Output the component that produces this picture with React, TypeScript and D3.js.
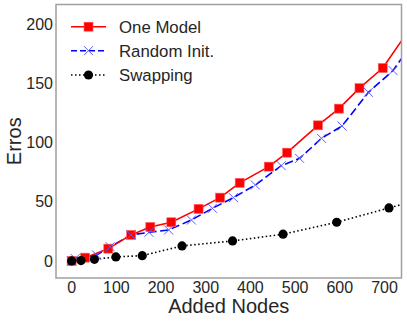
import React from 'react'
import * as d3 from 'd3'

// values
const oneModelX = [0, 30, 82, 133, 176, 223, 284, 332, 376, 441, 482, 551, 598, 644, 696, 760]
const oneModelY = [0, 2.8, 10.4, 22, 28.7, 32.7, 44, 53.5, 66, 79.7, 91.5, 114.6, 128.7, 146, 163, 198]

const randomX = [0, 8, 56, 86, 133, 173, 217, 268, 315, 362, 411, 469, 510, 559, 605, 664, 719, 770]
const randomY = [0, 2, 5, 12, 22, 24.2, 26.2, 34.6, 44.5, 53.5, 64.2, 80.5, 86.7, 103.6, 114, 142.5, 160.9, 188]

const swapX = [0, 21, 51, 99, 158, 247, 360, 473, 593, 710, 830]
const swapY = [0, 0.3, 1.4, 3.4, 4.5, 12.7, 16.9, 22.6, 32.7, 44.8, 57]

const xTicks = [0, 100, 200, 300, 400, 500, 600, 700]
const yTicks = [0, 50, 100, 150, 200]

const W = 407
const H = 322
const left = 56
const right = 401.5
const top = 4.5
const bottom = 278
const textColor = '#262626'
const font = 'Liberation Sans, Arial, sans-serif'

const x = d3.scaleLinear().domain([-35, 738]).range([left, right])
const y = d3.scaleLinear().domain([-14.4, 216.7]).range([bottom, top])

const line = d3.line<[number, number]>()
  .x(d => x(d[0]))
  .y(d => y(d[1]))

const zip = (xs: number[], ys: number[]): [number, number][] => xs.map((v, i) => [v, ys[i]])

function Square({ cx, cy, s = 9 }: { cx: number, cy: number, s?: number }) {
  return <rect x={cx - s / 2} y={cy - s / 2} width={s} height={s} fill="#ff0000" stroke="#ff6060" strokeWidth={0.6} />
}

function Cross({ cx, cy, s = 4.5 }: { cx: number, cy: number, s?: number }) {
  return <path d={`M${cx - s},${cy - s}L${cx + s},${cy + s}M${cx - s},${cy + s}L${cx + s},${cy - s}`}
    stroke="#5a5aff" strokeWidth={1} fill="none" />
}

function Dot({ cx, cy }: { cx: number, cy: number }) {
  return <circle cx={cx} cy={cy} r={4.6} fill="#000" />
}

export default function App() {
  const red = zip(oneModelX, oneModelY)
  const blue = zip(randomX, randomY)
  const black = zip(swapX, swapY)

  const legend = [
    { label: 'One Model', y: 26.7, color: '#ff0000', dash: undefined as string | undefined, kind: 'square' },
    { label: 'Random Init.', y: 50.7, color: '#0000ff', dash: '6,3', kind: 'cross' },
    { label: 'Swapping', y: 75, color: '#000000', dash: '1.5,2.5', kind: 'dot' },
  ]

  return (
    <svg width={W} height={H} style={{ position: 'absolute', left: 0, top: 0, background: '#fff' }}>
      <defs>
        <clipPath id="plot">
          <rect x={left} y={top} width={right - left} height={bottom - top} />
        </clipPath>
      </defs>

      <g clipPath="url(#plot)">
        <path d={line(black) ?? ''} fill="none" stroke="#000" strokeWidth={1.6} strokeDasharray="1.5,2.5" />
        <path d={line(blue) ?? ''} fill="none" stroke="#0000ff" strokeWidth={1.6} strokeDasharray="8.3,3.6" />
        <path d={line(red) ?? ''} fill="none" stroke="#ff0000" strokeWidth={1.6} />
        {red.map((d, i) => <Square key={'r' + i} cx={x(d[0])} cy={y(d[1])} />)}
        {blue.map((d, i) => <Cross key={'b' + i} cx={x(d[0])} cy={y(d[1])} />)}
        {black.map((d, i) => <Dot key={'k' + i} cx={x(d[0])} cy={y(d[1])} />)}
      </g>

      <rect x={left} y={top} width={right - left} height={bottom - top} fill="none" stroke="#a0a0a0" strokeWidth={1.5} />

      {xTicks.map(t => (
        <text key={'x' + t} x={x(t)} y={292.5} textAnchor="middle" fontSize={16} fontFamily={font} fill={textColor}>{t}</text>
      ))}
      {yTicks.map(t => (
        <text key={'y' + t} x={53} y={y(t)} dy="0.35em" textAnchor="end" fontSize={16} fontFamily={font} fill={textColor}>{t}</text>
      ))}

      <text x={(left + right) / 2} y={313.3} textAnchor="middle" fontSize={20} fontFamily={font} fill={textColor}>Added Nodes</text>
      <text transform={`translate(20.7,${(top + bottom) / 2}) rotate(-90)`} textAnchor="middle" fontSize={20} fontFamily={font} fill={textColor}>Erros</text>

      {legend.map(l => (
        <g key={l.label}>
          <line x1={71} x2={106} y1={l.y} y2={l.y} stroke={l.color} strokeWidth={1.6} strokeDasharray={l.dash} />
          {l.kind === 'square' && <Square cx={88.5} cy={l.y} />}
          {l.kind === 'cross' && <Cross cx={88.5} cy={l.y} />}
          {l.kind === 'dot' && <Dot cx={88.5} cy={l.y} />}
          <text x={119} y={l.y + 5.8} fontSize={16.8} fontFamily={font} fill={textColor}>{l.label}</text>
        </g>
      ))}
    </svg>
  )
}
